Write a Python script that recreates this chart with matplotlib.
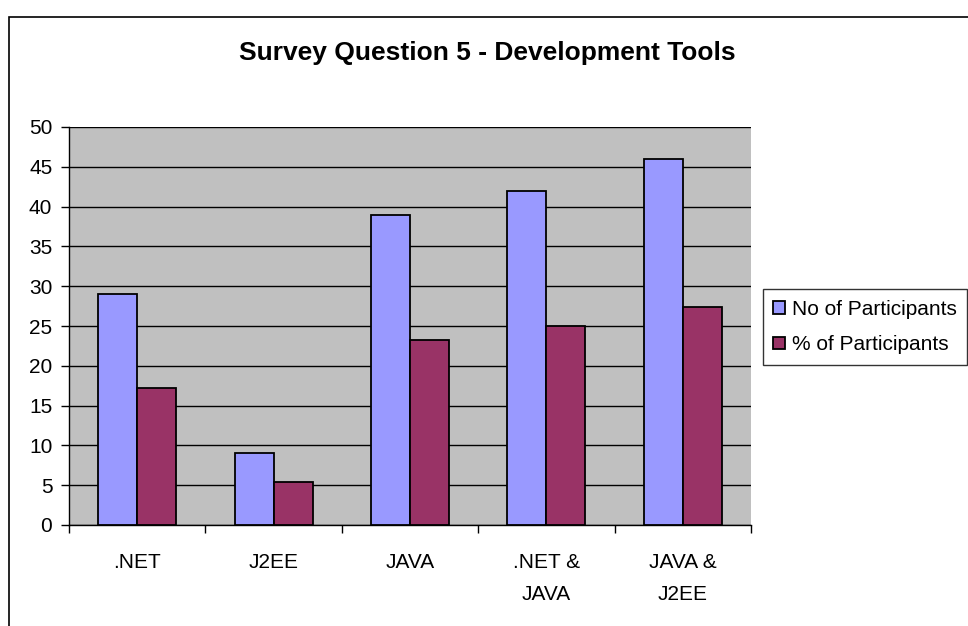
import matplotlib
matplotlib.use("Agg")
import matplotlib.pyplot as plt
import numpy as np
from matplotlib.patches import Rectangle

# Data
categories = [".NET", "J2EE", "JAVA", ".NET &\nJAVA", "JAVA &\nJ2EE"]
no_participants = [29, 9, 39, 42, 46]
pct_participants = [17.26, 5.36, 23.21, 25.0, 27.38]
y_ticks = [0, 5, 10, 15, 20, 25, 30, 35, 40, 45, 50]

plt.rcParams["font.family"] = ["Liberation Sans", "DejaVu Sans"]

fig = plt.figure(figsize=(9.68, 6.26), dpi=100)
ax = fig.add_axes([69 / 968, 1 - 525 / 626, (751 - 69) / 968, (525 - 127) / 626])
ax.set_facecolor("#C0C0C0")

# outer chart frame
fig.patches.append(Rectangle((9 / 968, -0.05), 1.2, 1 - 17 / 626 + 0.05,
                             transform=fig.transFigure, fill=False,
                             edgecolor="black", linewidth=1.2))

x = np.arange(len(categories))
bw = 1 / 3.5  # Excel gap width 150%
ax.bar(x - bw / 2, no_participants, bw, color="#9999FF", edgecolor="black",
       linewidth=1.3, label="No of Participants", zorder=3)
ax.bar(x + bw / 2, pct_participants, bw, color="#993366", edgecolor="black",
       linewidth=1.3, label="% of Participants", zorder=3)

ax.set_xlim(-0.5, len(categories) - 0.5)
ax.set_ylim(0, 50)
ax.set_yticks(y_ticks)
ax.yaxis.grid(True, color="black", linewidth=1.0, zorder=1)
ax.set_axisbelow(True)

# category labels between boundary ticks
ax.set_xticks(np.arange(len(categories) + 1) - 0.5)
ax.set_xticklabels([])
ax.set_xticks(x, minor=True)
ax.set_xticklabels(categories, minor=True, fontsize=15, linespacing=1.84,
                   va="top")
ax.tick_params(axis="x", which="minor", length=0, pad=20.5)
ax.tick_params(axis="x", which="major", length=6, width=1, direction="out")
ax.tick_params(axis="y", length=6, width=1, direction="out", labelsize=15, pad=6)

for s in ["top", "right"]:
    ax.spines[s].set_visible(False)
for s in ["left", "bottom"]:
    ax.spines[s].set_color("black")
    ax.spines[s].set_linewidth(1.0)

fig.text(487 / 968, 1 - 53 / 626, "Survey Question 5 - Development Tools",
         ha="center", va="center", fontsize=19, fontweight="bold")

leg = ax.legend(loc="center left", bbox_to_anchor=(763 / 968, 1 - 327 / 626),
                bbox_transform=fig.transFigure, frameon=True, fancybox=False,
                fontsize=15, handlelength=0.55, handleheight=0.55,
                handletextpad=0.35, borderpad=0.5, labelspacing=0.8,
                borderaxespad=0)
leg.get_frame().set_edgecolor("black")
leg.get_frame().set_linewidth(1.0)

fig.savefig("out.png", dpi=100, facecolor="white")
